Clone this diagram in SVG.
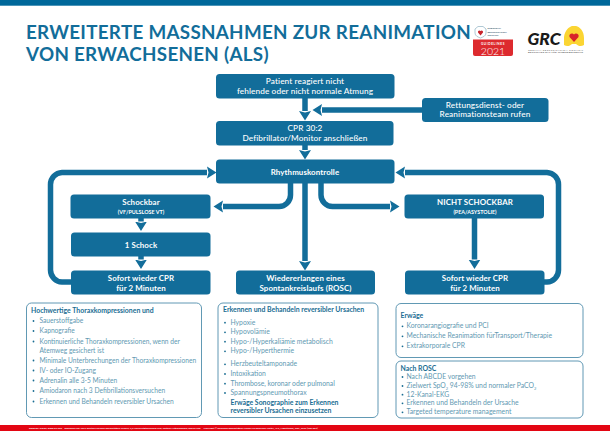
<svg xmlns="http://www.w3.org/2000/svg" width="610" height="431" viewBox="0 0 610 431">
<style>
text{font-family:Lato,"Liberation Sans",sans-serif}
.box{fill:#126d9a}
.t{fill:#fff;font-size:8.25px;font-weight:500;text-anchor:middle;letter-spacing:.1px}
.b{font-weight:700;font-size:7.9px}
.s{fill:#fff;font-size:5.4px;font-weight:700;text-anchor:middle}
.title{fill:#126d9a;font-size:18.8px;font-weight:700;letter-spacing:.3px}
.panel{fill:#fff;stroke:#4f8dab;stroke-width:.9}
.h{fill:#1a6d92;font-size:6.9px;font-weight:700}
.i{fill:#6299b2;font-size:6.8px}
.il{fill:#6299b2;font-size:6.65px}
.d{fill:#1a6d92}
.c{fill:none;stroke:#126d9a;stroke-width:5.5}
</style>
<defs>
<marker id="a" markerUnits="userSpaceOnUse" markerWidth="10" markerHeight="13" refX="0" refY="6.5" orient="auto"><path d="M0,0.5 L9.5,6.5 L0,12.5 L1.5,6.5z" fill="#126d9a"/></marker>
</defs>
<rect width="610" height="431" fill="#fff"/>
<rect width="610" height="5.7" fill="#00689a"/>
<rect y="425" width="610" height="6" fill="#e30613"/>
<text x="29" y="429" fill="#fff" font-size="2.45" font-weight="700" xml:space="preserve">www.grc-org.de; www.erc.edu    published Mar 2021 Deutsch German Resuscitation Council, c/o Universitätsklinikum Ulm, Sektion Notfallmedizin, 89070 Ulm     Copyright © European Resuscitation Council via Referenz: Poster_ALS_Algorithmus_GRC_2021 (Mar 002)</text>
<text class="title" x="26" y="38.5">ERWEITERTE MASSNAHMEN ZUR REANIMATION</text>
<text class="title" x="26" y="60.5">VON ERWACHSENEN (ALS)</text>

<g id="logo-erc">
<path d="M473,39.500 h40 v14.500 a2,2 0 0 1 -2,2 h-36 a2,2 0 0 1 -2,-2z" fill="#dd2a2e"/>
<path d="M475,29 L478,26.500 h5 L486,29 v4 c0,3 -3,4 -5.500,5 c-2.500,-1 -5.500,-2 -5.500,-5z" fill="#fff" stroke="#7aa4b8" stroke-width=".6"/>
<path d="M480.500,35.500 l-2.500,-3 a1.500,1.500 0 0 1 2.500,-1.500 a1.500,1.500 0 0 1 2.500,1.500z" fill="#c8242c"/>
<text x="487.500" y="29" font-size="2.500" font-weight="700" fill="#33566b">EUROPEAN</text>
<text x="487.500" y="32.500" font-size="2.500" font-weight="700" fill="#33566b">RESUSCITATION</text>
<text x="487.500" y="36" font-size="2.500" font-weight="700" fill="#33566b">COUNCIL</text>
<text x="493" y="44.500" font-size="3.100" font-weight="700" letter-spacing=".6" fill="#fff" text-anchor="middle">GUIDELINES</text>
<text x="493" y="54.500" font-size="10.500" font-weight="300" fill="#fff" text-anchor="middle">2021</text>
</g>
<g id="logo-grc">
<path d="M564,45 V37 C565,30 569,27 572,26 H576 C580,27 584,31 584,38 V45 C581,47 578,46 576,44 H572 C570,46 567,47 564,45z" fill="#fbd533"/>
<path d="M574,42 l-4.500,-5 a2.600,2.600 0 0 1 4.500,-2.500 a2.600,2.600 0 0 1 4.500,2.500z" fill="#d8232a"/>
<text x="527.500" y="44.500" font-size="17.500" font-weight="900" font-style="italic" fill="#1a1a1a">GRC</text>
<text x="528" y="50.600" font-size="2.500" fill="#555" textLength="55">GERMAN RESUSCITATION COUNCIL</text>
<text x="528" y="53.400" font-size="2.400" font-weight="700" fill="#555" textLength="55">DEUTSCHER RAT FÜR WIEDERBELEBUNG</text>
</g>

<g id="connectors">
<path class="c" marker-end="url(#a)" d="M305,98 V111"/>
<path class="c" marker-end="url(#a)" d="M305,145 V150"/>
<path class="c" marker-end="url(#a)" d="M305,183 V261"/>
<path class="c" marker-end="url(#a)" d="M422,110 H322"/>
<path class="c" marker-end="url(#a)" d="M71,282 H62 A12,12 0 0 1 50.500,270 V184.500 A12,12 0 0 1 62,172.500 H207"/>
<path class="c" marker-end="url(#a)" d="M544,282 H547 A12,12 0 0 0 558.500,270 V184.500 A12,12 0 0 0 547,172.500 H405"/>
<path class="c" marker-end="url(#a)" d="M290.500,183 V195 A11.500,11.500 0 0 1 279,206.500 H223"/>
<path class="c" marker-end="url(#a)" d="M321,183 V195 A11.500,11.500 0 0 0 332.500,206.500 H390"/>
<path class="c" marker-end="url(#a)" d="M141,218 V221.500"/>
<path class="c" marker-end="url(#a)" d="M141,256 V259.500"/>
<path class="c" marker-end="url(#a)" d="M474.500,218 V259.500"/>
</g>

<g id="n-patient"><rect class="box" x="216" y="74" width="178.500" height="24.500" rx="3.500"/><text class="t" x="305" y="83.700">Patient reagiert nicht</text><text class="t" x="305" y="93.700">fehlende oder nicht normale Atmung</text></g>
<g id="n-rett"><rect class="box" x="422" y="98" width="126.500" height="24" rx="3.500"/><text class="t" x="485" y="107.700">Rettungsdienst- oder</text><text class="t" x="485" y="117">Reanimationsteam rufen</text></g>
<g id="n-cpr"><rect class="box" x="216" y="121" width="177.500" height="24.500" rx="3.500"/><text class="t" x="305" y="131">CPR 30:2</text><text class="t" x="305" y="140.700">Defibrillator/Monitor anschließen</text></g>
<g id="n-rhythmus"><rect class="box" x="216" y="159.500" width="178.500" height="24" rx="3.500"/><text class="t b" x="305" y="175">Rhythmuskontrolle</text></g>
<g id="n-schockbar"><rect class="box" x="70.500" y="194.500" width="140" height="24" rx="3.500"/><text class="t b" x="141" y="205">Schockbar</text><text class="s" x="141" y="214">(VF/PULSLOSE VT)</text></g>
<g id="n-schock"><rect class="box" x="71" y="232.500" width="139.500" height="24" rx="3.500"/><text class="t b" x="141" y="248">1 Schock</text></g>
<g id="n-cpr-l"><rect class="box" x="71" y="270.500" width="139.500" height="24" rx="3.500"/><text class="t b" x="141" y="281">Sofort wieder CPR</text><text class="t b" x="141" y="290.500">für 2 Minuten</text></g>
<g id="n-rosc"><rect class="box" x="236" y="270.500" width="139" height="24" rx="3.500"/><text class="t b" x="305.500" y="281">Wiedererlangen eines</text><text class="t b" x="305.500" y="290.500">Spontankreislaufs (ROSC)</text></g>
<g id="n-nicht"><rect class="box" x="404.500" y="194.500" width="139.500" height="24" rx="3.500"/><text class="t b" x="475" y="205">NICHT SCHOCKBAR</text><text class="s" x="475" y="214">(PEA/ASYSTOLIE)</text></g>
<g id="n-cpr-r"><rect class="box" x="405" y="270.500" width="139.500" height="24" rx="3.500"/><text class="t b" x="475" y="281">Sofort wieder CPR</text><text class="t b" x="475" y="290.500">für 2 Minuten</text></g>

<g id="p-thorax">
<rect class="panel" x="26.500" y="303" width="175" height="114.500" rx="5"/>
<text class="h" x="31" y="312.700">Hochwertige Thoraxkompressionen und</text>
<g class="d"><circle cx="33.500" cy="321" r=".9"/><circle cx="33.500" cy="331" r=".9"/><circle cx="33.500" cy="341.500" r=".9"/><circle cx="33.500" cy="360.500" r=".9"/><circle cx="33.500" cy="370.500" r=".9"/><circle cx="33.500" cy="380.500" r=".9"/><circle cx="33.500" cy="391" r=".9"/><circle cx="33.500" cy="401.500" r=".9"/></g>
<g class="il">
<text x="39.500" y="323">Sauerstoffgabe</text>
<text x="39.500" y="333">Kapnografie</text>
<text x="39.500" y="343.500">Kontinuierliche Thoraxkompressionen, wenn der</text>
<text x="39.500" y="352.500">Atemweg gesichert ist</text>
<text x="39.500" y="362.500">Minimale Unterbrechungen der Thoraxkompressionen</text>
<text x="39.500" y="372.500">IV- oder IO-Zugang</text>
<text x="39.500" y="382.500">Adrenalin alle 3-5 Minuten</text>
<text x="39.500" y="393">Amiodaron nach 3 Defibrillationsversuchen</text>
<text x="39.500" y="403.500">Erkennen und Behandeln reversibler Ursachen</text>
</g>
</g>

<g id="p-ursachen">
<rect class="panel" x="218" y="303" width="160" height="114.500" rx="5"/>
<text class="h" x="223" y="311.700">Erkennen und Behandeln reversibler Ursachen</text>
<g class="d"><circle cx="225" cy="322.700" r=".9"/><circle cx="225" cy="332.300" r=".9"/><circle cx="225" cy="341.700" r=".9"/><circle cx="225" cy="351.300" r=".9"/><circle cx="225" cy="364.300" r=".9"/><circle cx="225" cy="374" r=".9"/><circle cx="225" cy="383.700" r=".9"/><circle cx="225" cy="393" r=".9"/></g>
<g class="i">
<text x="230.500" y="324.700">Hypoxie</text>
<text x="230.500" y="334.300">Hypovolämie</text>
<text x="230.500" y="343.700">Hypo-/Hyperkaliämie metabolisch</text>
<text x="230.500" y="353.300">Hypo-/Hyperthermie</text>
<text x="230.500" y="366.300">Herzbeuteltamponade</text>
<text x="230.500" y="376">Intoxikation</text>
<text x="230.500" y="385.700">Thrombose, koronar oder pulmonal</text>
<text x="230.500" y="395">Spannungspneumothorax</text>
</g>
<text class="h" x="230.500" y="405.300">Erwäge Sonographie zum Erkennen</text>
<text class="h" x="230.500" y="413.300">reversibler Ursachen einzusetzen</text>
</g>

<g id="p-erwaege">
<rect class="panel" x="396" y="303.500" width="187" height="54" rx="5"/>
<text class="h" x="400.500" y="317.700">Erwäge</text>
<g class="d"><circle cx="402.500" cy="326.300" r=".9"/><circle cx="402.500" cy="336.300" r=".9"/><circle cx="402.500" cy="346.300" r=".9"/></g>
<g class="i">
<text x="406.500" y="328.300">Koronarangiografie und PCI</text>
<text x="406.500" y="338.300">Mechanische Reanimation fürTransport/Therapie</text>
<text x="406.500" y="348.300">Extrakorporale CPR</text>
</g>
</g>

<g id="p-rosc">
<rect class="panel" x="396" y="361" width="187" height="57" rx="5"/>
<text class="h" x="400.500" y="370.700">Nach ROSC</text>
<g class="d"><circle cx="402.500" cy="377" r=".9"/><circle cx="402.500" cy="386" r=".9"/><circle cx="402.500" cy="394.700" r=".9"/><circle cx="402.500" cy="403.300" r=".9"/><circle cx="402.500" cy="412.300" r=".9"/></g>
<g class="i">
<text x="406.500" y="379">Nach ABCDE vorgehen</text>
<text x="406.500" y="388">Zielwert SpO<tspan font-size="4" dy="1.500">2</tspan><tspan dy="-1.500"> 94-98% und normaler PaCO</tspan><tspan font-size="4" dy="1.500">2</tspan></text>
<text x="406.500" y="396.700">12-Kanal-EKG</text>
<text x="406.500" y="405.300">Erkennen und Behandeln der Ursache</text>
<text x="406.500" y="414.300">Targeted temperature management</text>
</g>
</g>
</svg>
